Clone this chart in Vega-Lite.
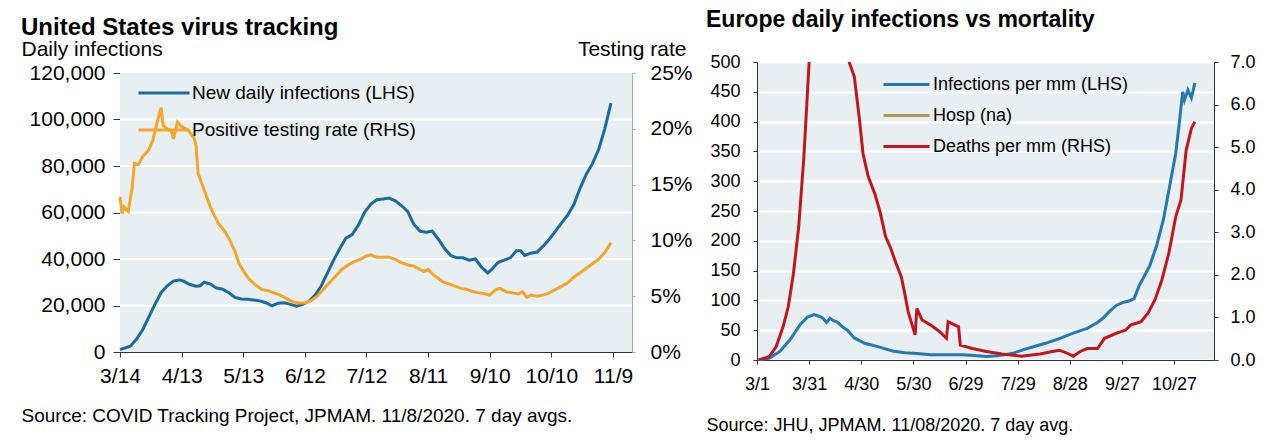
{
  "$schema": "https://vega.github.io/schema/vega-lite/v6.json",
  "background": "white",
  "padding": {"left": 21, "top": 3, "right": 5, "bottom": 5},
  "config": {
    "font": "Liberation Sans",
    "view": {"fill": null, "stroke": null},
    "axis": {"labelColor": "black", "titleColor": "black", "titleFontWeight": "normal", "domainWidth": 1, "tickWidth": 1, "gridColor": "white", "gridWidth": 2, "gridOpacity": 1, "labelFont": "Liberation Sans", "titleFont": "Liberation Sans"},
    "title": {"font": "Liberation Sans", "color": "black"},
    "legend": {"labelFont": "Liberation Sans", "labelColor": "black"}
  },
  "spacing": 13,
  "resolve": {"scale": {"x": "independent", "y": "independent", "color": "independent"}},
  "hconcat": [
    {
      "width": 512,
      "height": 290,
      "title": {"text": ["", "United States virus tracking"], "lineHeight": 13, "anchor": "start", "frame": "group", "dx": -99, "fontSize": 24, "fontWeight": "bold", "offset": -2},
      "resolve": {"scale": {"y": "independent"}},
      "layer": [
        {
          "layer": [
            {
              "data": {"values": [{"panel": "US"}]},
              "mark": {"type": "rect", "color": "#e8eff3"},
              "encoding": {
                "x": {"datum": {"year": 2020, "month": 3, "date": 14, "utc": true}, "type": "temporal"},
                "x2": {"datum": {"year": 2020, "month": 11, "date": 18, "hours": 6, "utc": true}},
                "y": {"datum": 0, "type": "quantitative"},
                "y2": {"datum": 120000}
              }
            },
            {
              "data": {"values": [{"g": 20000}, {"g": 40000}, {"g": 60000}, {"g": 80000}, {"g": 100000}]},
              "mark": {"type": "rule", "color": "white", "strokeWidth": 2},
              "encoding": {"y": {"field": "g", "type": "quantitative"}}
            },
            {
              "data": {"values": [
                {"date": "2020-03-14", "value": 1000}, {"date": "2020-03-19", "value": 2500}, {"date": "2020-03-22", "value": 5500}, {"date": "2020-03-25", "value": 9500}, {"date": "2020-03-28", "value": 15000}, {"date": "2020-03-31", "value": 20500}, {"date": "2020-04-03", "value": 25500}, {"date": "2020-04-06", "value": 28500}, {"date": "2020-04-09", "value": 30500}, {"date": "2020-04-12", "value": 31000}, {"date": "2020-04-14", "value": 30500}, {"date": "2020-04-17", "value": 29000}, {"date": "2020-04-20", "value": 28300}, {"date": "2020-04-22", "value": 28500}, {"date": "2020-04-24", "value": 30000}, {"date": "2020-04-27", "value": 29200}, {"date": "2020-04-30", "value": 27500}, {"date": "2020-05-03", "value": 27000}, {"date": "2020-05-06", "value": 25500}, {"date": "2020-05-09", "value": 23500}, {"date": "2020-05-12", "value": 22800}, {"date": "2020-05-15", "value": 22700}, {"date": "2020-05-18", "value": 22400}, {"date": "2020-05-21", "value": 22000}, {"date": "2020-05-24", "value": 21200}, {"date": "2020-05-27", "value": 19900}, {"date": "2020-05-30", "value": 21000}, {"date": "2020-06-02", "value": 21200}, {"date": "2020-06-05", "value": 20500}, {"date": "2020-06-08", "value": 19700}, {"date": "2020-06-11", "value": 20500}, {"date": "2020-06-14", "value": 21800}, {"date": "2020-06-17", "value": 24500}, {"date": "2020-06-20", "value": 28500}, {"date": "2020-06-23", "value": 34000}, {"date": "2020-06-26", "value": 39500}, {"date": "2020-06-29", "value": 44500}, {"date": "2020-07-02", "value": 49000}, {"date": "2020-07-05", "value": 50500}, {"date": "2020-07-08", "value": 54500}, {"date": "2020-07-11", "value": 60000}, {"date": "2020-07-14", "value": 63500}, {"date": "2020-07-17", "value": 65500}, {"date": "2020-07-20", "value": 65800}, {"date": "2020-07-23", "value": 66200}, {"date": "2020-07-26", "value": 65000}, {"date": "2020-07-29", "value": 63000}, {"date": "2020-08-01", "value": 60500}, {"date": "2020-08-04", "value": 55000}, {"date": "2020-08-07", "value": 52000}, {"date": "2020-08-10", "value": 51500}, {"date": "2020-08-13", "value": 52000}, {"date": "2020-08-16", "value": 48500}, {"date": "2020-08-19", "value": 44500}, {"date": "2020-08-22", "value": 41500}, {"date": "2020-08-25", "value": 40500}, {"date": "2020-08-28", "value": 40500}, {"date": "2020-08-31", "value": 39500}, {"date": "2020-09-03", "value": 40000}, {"date": "2020-09-06", "value": 36500}, {"date": "2020-09-09", "value": 34000}, {"date": "2020-09-11", "value": 35500}, {"date": "2020-09-14", "value": 38500}, {"date": "2020-09-17", "value": 39500}, {"date": "2020-09-20", "value": 40500}, {"date": "2020-09-23", "value": 43500}, {"date": "2020-09-25", "value": 43500}, {"date": "2020-09-27", "value": 41500}, {"date": "2020-09-30", "value": 42500}, {"date": "2020-10-03", "value": 43000}, {"date": "2020-10-06", "value": 45500}, {"date": "2020-10-09", "value": 48500}, {"date": "2020-10-12", "value": 52000}, {"date": "2020-10-15", "value": 55500}, {"date": "2020-10-18", "value": 59000}, {"date": "2020-10-21", "value": 63500}, {"date": "2020-10-24", "value": 70500}, {"date": "2020-10-27", "value": 76500}, {"date": "2020-10-30", "value": 81000}, {"date": "2020-11-02", "value": 87000}, {"date": "2020-11-05", "value": 96000}, {"date": "2020-11-08", "value": 107000}
              ]},
              "mark": {"type": "line", "strokeWidth": 3},
              "encoding": {
                "x": {"field": "date", "type": "temporal",
                  "scale": {"type": "utc", "domain": [{"year": 2020, "month": 3, "date": 14, "utc": true}, {"year": 2020, "month": 11, "date": 18, "hours": 6, "utc": true}]},
                  "axis": {"title": "Source: COVID Tracking Project, JPMAM. 11/8/2020. 7 day avgs.", "titleX": -99, "titleY": 69, "titleAlign": "left", "titleBaseline": "alphabetic", "titleFontSize": 19,
                    "values": [{"year": 2020, "month": 3, "date": 14, "utc": true}, {"year": 2020, "month": 4, "date": 13, "utc": true}, {"year": 2020, "month": 5, "date": 13, "utc": true}, {"year": 2020, "month": 6, "date": 12, "utc": true}, {"year": 2020, "month": 7, "date": 12, "utc": true}, {"year": 2020, "month": 8, "date": 11, "utc": true}, {"year": 2020, "month": 9, "date": 10, "utc": true}, {"year": 2020, "month": 10, "date": 10, "utc": true}, {"year": 2020, "month": 11, "date": 9, "utc": true}],
                    "labelExpr": "utcFormat(datum.value, '%-m/%-d')", "labelFontSize": 21, "labelPadding": 8, "tickSize": 5, "domainColor": "#333333", "tickColor": "#333333", "grid": false, "labelFlush": false, "labelOverlap": false}},
                "y": {"field": "value", "type": "quantitative",
                  "scale": {"domain": [0, 120000], "range": [290, 11], "nice": false},
                  "axis": {"orient": "left", "values": [0, 20000, 40000, 60000, 80000, 100000, 120000], "format": ",d", "labelFontSize": 21, "tickSize": 7, "labelPadding": 8, "domainColor": "#333333", "tickColor": "#333333", "grid": false,
                    "title": "Daily infections", "titleAngle": 0, "titleAlign": "left", "titleBaseline": "alphabetic", "titleX": -99, "titleY": -7, "titleFontSize": 21}},
                "color": {"datum": "New daily infections (LHS)", "type": "nominal",
                  "scale": {"domain": ["New daily infections (LHS)", "Positive testing rate (RHS)"], "range": ["#1c6b9d", "#f4a62a"]},
                  "legend": {"orient": "none", "legendX": 34, "legendY": 21, "title": null, "symbolType": "M-3,0H3", "symbolSize": 289, "symbolStrokeWidth": 3, "labelFontSize": 19, "labelOffset": 18, "rowPadding": 17, "padding": 0, "labelLimit": 500}}
              }
            }
          ]
        },
        {
          "data": {"values": [
            {"date": "2020-03-14", "rate": 13.9}, {"date": "2020-03-15", "rate": 12.4}, {"date": "2020-03-16", "rate": 13.0}, {"date": "2020-03-18", "rate": 12.6}, {"date": "2020-03-20", "rate": 14.8}, {"date": "2020-03-21", "rate": 16.9}, {"date": "2020-03-23", "rate": 16.8}, {"date": "2020-03-25", "rate": 17.5}, {"date": "2020-03-28", "rate": 18.1}, {"date": "2020-03-30", "rate": 19.0}, {"date": "2020-04-01", "rate": 20.5}, {"date": "2020-04-03", "rate": 21.9}, {"date": "2020-04-04", "rate": 20.3}, {"date": "2020-04-06", "rate": 20.0}, {"date": "2020-04-08", "rate": 19.8}, {"date": "2020-04-09", "rate": 19.1}, {"date": "2020-04-11", "rate": 20.6}, {"date": "2020-04-13", "rate": 20.2}, {"date": "2020-04-16", "rate": 19.9}, {"date": "2020-04-19", "rate": 19.2}, {"date": "2020-04-20", "rate": 18.5}, {"date": "2020-04-21", "rate": 16.0}, {"date": "2020-04-23", "rate": 15.0}, {"date": "2020-04-25", "rate": 14.0}, {"date": "2020-04-27", "rate": 13.0}, {"date": "2020-04-29", "rate": 12.2}, {"date": "2020-05-01", "rate": 11.5}, {"date": "2020-05-04", "rate": 10.8}, {"date": "2020-05-06", "rate": 10.2}, {"date": "2020-05-09", "rate": 9.0}, {"date": "2020-05-11", "rate": 7.9}, {"date": "2020-05-14", "rate": 7.0}, {"date": "2020-05-16", "rate": 6.5}, {"date": "2020-05-19", "rate": 6.0}, {"date": "2020-05-22", "rate": 5.6}, {"date": "2020-05-25", "rate": 5.5}, {"date": "2020-05-28", "rate": 5.3}, {"date": "2020-05-31", "rate": 5.1}, {"date": "2020-06-03", "rate": 4.8}, {"date": "2020-06-06", "rate": 4.5}, {"date": "2020-06-09", "rate": 4.4}, {"date": "2020-06-12", "rate": 4.4}, {"date": "2020-06-15", "rate": 4.6}, {"date": "2020-06-18", "rate": 5.0}, {"date": "2020-06-21", "rate": 5.6}, {"date": "2020-06-24", "rate": 6.2}, {"date": "2020-06-27", "rate": 6.8}, {"date": "2020-06-30", "rate": 7.4}, {"date": "2020-07-03", "rate": 7.8}, {"date": "2020-07-06", "rate": 8.1}, {"date": "2020-07-09", "rate": 8.3}, {"date": "2020-07-12", "rate": 8.6}, {"date": "2020-07-14", "rate": 8.7}, {"date": "2020-07-17", "rate": 8.5}, {"date": "2020-07-20", "rate": 8.5}, {"date": "2020-07-23", "rate": 8.5}, {"date": "2020-07-26", "rate": 8.3}, {"date": "2020-07-29", "rate": 8.0}, {"date": "2020-08-01", "rate": 7.8}, {"date": "2020-08-04", "rate": 7.7}, {"date": "2020-08-07", "rate": 7.4}, {"date": "2020-08-09", "rate": 7.2}, {"date": "2020-08-11", "rate": 7.4}, {"date": "2020-08-13", "rate": 7.0}, {"date": "2020-08-16", "rate": 6.6}, {"date": "2020-08-18", "rate": 6.3}, {"date": "2020-08-21", "rate": 6.1}, {"date": "2020-08-24", "rate": 5.9}, {"date": "2020-08-27", "rate": 5.7}, {"date": "2020-08-30", "rate": 5.6}, {"date": "2020-09-02", "rate": 5.4}, {"date": "2020-09-05", "rate": 5.3}, {"date": "2020-09-08", "rate": 5.2}, {"date": "2020-09-10", "rate": 5.1}, {"date": "2020-09-13", "rate": 5.6}, {"date": "2020-09-15", "rate": 5.7}, {"date": "2020-09-18", "rate": 5.4}, {"date": "2020-09-21", "rate": 5.3}, {"date": "2020-09-24", "rate": 5.2}, {"date": "2020-09-26", "rate": 5.4}, {"date": "2020-09-28", "rate": 4.9}, {"date": "2020-09-30", "rate": 5.1}, {"date": "2020-10-03", "rate": 5.0}, {"date": "2020-10-06", "rate": 5.1}, {"date": "2020-10-09", "rate": 5.3}, {"date": "2020-10-12", "rate": 5.6}, {"date": "2020-10-15", "rate": 5.9}, {"date": "2020-10-18", "rate": 6.2}, {"date": "2020-10-21", "rate": 6.7}, {"date": "2020-10-24", "rate": 7.1}, {"date": "2020-10-27", "rate": 7.5}, {"date": "2020-10-30", "rate": 7.9}, {"date": "2020-11-02", "rate": 8.3}, {"date": "2020-11-05", "rate": 8.9}, {"date": "2020-11-08", "rate": 9.8}
          ]},
          "mark": {"type": "line", "strokeWidth": 3},
          "encoding": {
            "x": {"field": "date", "type": "temporal"},
            "y": {"field": "rate", "type": "quantitative",
              "scale": {"domain": [0, 25], "range": [290, 11], "nice": false},
              "axis": {"orient": "right", "values": [0, 5, 10, 15, 20, 25], "labelExpr": "datum.value + '%'", "labelFontSize": 21, "tickSize": 3, "labelPadding": 15, "domainColor": "#aaaaaa", "tickColor": "#aaaaaa", "grid": false,
                "title": "Testing rate", "titleAngle": 0, "titleAlign": "right", "titleBaseline": "alphabetic", "titleX": 54, "titleY": -7, "titleFontSize": 21}},
            "color": {"datum": "Positive testing rate (RHS)", "type": "nominal"}
          }
        }
      ]
    },
    {
      "width": 457,
      "height": 298,
      "view": {"fill": "#e8eff3", "stroke": null},
      "title": {"text": "Europe daily infections vs mortality", "anchor": "start", "frame": "group", "dx": -51, "fontSize": 23, "fontWeight": "bold", "offset": 21},
      "resolve": {"scale": {"y": "independent"}},
      "layer": [
        {
          "data": {"values": [
            {"date": "2020-03-02", "v": 0.5}, {"date": "2020-03-08", "v": 3}, {"date": "2020-03-14", "v": 14}, {"date": "2020-03-20", "v": 34}, {"date": "2020-03-26", "v": 60}, {"date": "2020-03-30", "v": 72}, {"date": "2020-04-03", "v": 76}, {"date": "2020-04-06", "v": 73}, {"date": "2020-04-08", "v": 70}, {"date": "2020-04-10", "v": 63}, {"date": "2020-04-12", "v": 70}, {"date": "2020-04-14", "v": 66}, {"date": "2020-04-16", "v": 64}, {"date": "2020-04-19", "v": 56}, {"date": "2020-04-22", "v": 50}, {"date": "2020-04-26", "v": 37}, {"date": "2020-05-02", "v": 28}, {"date": "2020-05-10", "v": 22}, {"date": "2020-05-18", "v": 15}, {"date": "2020-05-25", "v": 12}, {"date": "2020-06-01", "v": 11}, {"date": "2020-06-09", "v": 9}, {"date": "2020-06-19", "v": 9}, {"date": "2020-06-27", "v": 9}, {"date": "2020-07-04", "v": 7.5}, {"date": "2020-07-11", "v": 6}, {"date": "2020-07-17", "v": 7}, {"date": "2020-07-22", "v": 9}, {"date": "2020-07-27", "v": 12}, {"date": "2020-08-01", "v": 17}, {"date": "2020-08-08", "v": 23}, {"date": "2020-08-14", "v": 28}, {"date": "2020-08-22", "v": 36}, {"date": "2020-08-30", "v": 45}, {"date": "2020-09-07", "v": 53}, {"date": "2020-09-13", "v": 63}, {"date": "2020-09-16", "v": 70}, {"date": "2020-09-20", "v": 82}, {"date": "2020-09-24", "v": 92}, {"date": "2020-09-28", "v": 97}, {"date": "2020-10-01", "v": 99}, {"date": "2020-10-04", "v": 103}, {"date": "2020-10-07", "v": 125}, {"date": "2020-10-09", "v": 136}, {"date": "2020-10-13", "v": 158}, {"date": "2020-10-17", "v": 192}, {"date": "2020-10-21", "v": 237}, {"date": "2020-10-25", "v": 300}, {"date": "2020-10-28", "v": 347}, {"date": "2020-10-30", "v": 397}, {"date": "2020-11-01", "v": 450}, {"date": "2020-11-02", "v": 436}, {"date": "2020-11-04", "v": 453}, {"date": "2020-11-06", "v": 440}, {"date": "2020-11-08", "v": 465}
          ]},
          "mark": {"type": "line", "strokeWidth": 3},
          "encoding": {
            "x": {"field": "date", "type": "temporal",
              "scale": {"type": "utc", "domain": [{"year": 2020, "month": 3, "date": 1, "utc": true}, {"year": 2020, "month": 11, "date": 19, "utc": true}]},
              "axis": {"title": "Source: JHU, JPMAM. 11/08/2020. 7 day avg.", "titleX": -51, "titleY": 70, "titleAlign": "left", "titleBaseline": "alphabetic", "titleFontSize": 18,
                "values": [{"year": 2020, "month": 3, "date": 1, "utc": true}, {"year": 2020, "month": 3, "date": 31, "utc": true}, {"year": 2020, "month": 4, "date": 30, "utc": true}, {"year": 2020, "month": 5, "date": 30, "utc": true}, {"year": 2020, "month": 6, "date": 29, "utc": true}, {"year": 2020, "month": 7, "date": 29, "utc": true}, {"year": 2020, "month": 8, "date": 28, "utc": true}, {"year": 2020, "month": 9, "date": 27, "utc": true}, {"year": 2020, "month": 10, "date": 27, "utc": true}],
                "labelExpr": "utcFormat(datum.value, '%-m/%-d')", "labelFontSize": 18, "labelPadding": 11, "tickSize": 4, "domainColor": "#333333", "tickColor": "#333333", "grid": false, "labelFlush": false, "labelOverlap": false}},
            "y": {"field": "v", "type": "quantitative",
              "scale": {"domain": [0, 500], "nice": false},
              "axis": {"orient": "left", "values": [0, 50, 100, 150, 200, 250, 300, 350, 400, 450, 500], "labelFontSize": 18, "tickSize": 4, "labelPadding": 13, "domainColor": "#333333", "tickColor": "#333333", "grid": true, "title": null}},
            "color": {"datum": "Infections per mm (LHS)", "type": "nominal",
              "scale": {"domain": ["Infections per mm (LHS)", "Hosp (na)", "Deaths per mm (RHS)"], "range": ["#2479b0", "#b39550", "#c0171c"]},
              "legend": {"orient": "none", "legendX": 140, "legendY": 13, "title": null, "symbolType": "M-3,0H3", "symbolSize": 235, "symbolStrokeWidth": 3, "labelFontSize": 18, "labelOffset": 17, "rowPadding": 12, "padding": 0, "labelLimit": 500}}
          }
        },
        {
          "data": {"values": [
            {"date": "2020-03-02", "d": 0}, {"date": "2020-03-08", "d": 0.08}, {"date": "2020-03-12", "d": 0.31}, {"date": "2020-03-16", "d": 0.78}, {"date": "2020-03-19", "d": 1.25}, {"date": "2020-03-22", "d": 2.04}, {"date": "2020-03-25", "d": 3.13}, {"date": "2020-03-28", "d": 4.78}, {"date": "2020-03-31", "d": 7.0}, {"date": "2020-04-04", "d": 8.6}, {"date": "2020-04-08", "d": 9.0}, {"date": "2020-04-14", "d": 8.8}, {"date": "2020-04-20", "d": 8.0}, {"date": "2020-04-23", "d": 7.0}, {"date": "2020-04-26", "d": 6.66}, {"date": "2020-04-29", "d": 5.64}, {"date": "2020-05-01", "d": 4.85}, {"date": "2020-05-04", "d": 4.31}, {"date": "2020-05-08", "d": 3.88}, {"date": "2020-05-11", "d": 3.45}, {"date": "2020-05-14", "d": 2.9}, {"date": "2020-05-17", "d": 2.62}, {"date": "2020-05-20", "d": 2.27}, {"date": "2020-05-23", "d": 1.96}, {"date": "2020-05-25", "d": 1.57}, {"date": "2020-05-27", "d": 1.13}, {"date": "2020-05-29", "d": 0.86}, {"date": "2020-05-31", "d": 0.59}, {"date": "2020-06-01", "d": 1.21}, {"date": "2020-06-04", "d": 0.94}, {"date": "2020-06-09", "d": 0.82}, {"date": "2020-06-14", "d": 0.67}, {"date": "2020-06-18", "d": 0.51}, {"date": "2020-06-19", "d": 0.9}, {"date": "2020-06-23", "d": 0.82}, {"date": "2020-06-25", "d": 0.78}, {"date": "2020-06-26", "d": 0.35}, {"date": "2020-07-03", "d": 0.27}, {"date": "2020-07-11", "d": 0.2}, {"date": "2020-07-20", "d": 0.14}, {"date": "2020-07-31", "d": 0.09}, {"date": "2020-08-11", "d": 0.14}, {"date": "2020-08-18", "d": 0.2}, {"date": "2020-08-22", "d": 0.23}, {"date": "2020-08-26", "d": 0.17}, {"date": "2020-08-30", "d": 0.09}, {"date": "2020-09-03", "d": 0.2}, {"date": "2020-09-07", "d": 0.27}, {"date": "2020-09-13", "d": 0.27}, {"date": "2020-09-17", "d": 0.51}, {"date": "2020-09-24", "d": 0.63}, {"date": "2020-09-29", "d": 0.7}, {"date": "2020-10-02", "d": 0.82}, {"date": "2020-10-08", "d": 0.9}, {"date": "2020-10-12", "d": 1.1}, {"date": "2020-10-16", "d": 1.41}, {"date": "2020-10-20", "d": 1.88}, {"date": "2020-10-24", "d": 2.51}, {"date": "2020-10-28", "d": 3.37}, {"date": "2020-10-31", "d": 3.76}, {"date": "2020-11-03", "d": 4.93}, {"date": "2020-11-06", "d": 5.44}, {"date": "2020-11-08", "d": 5.6}
          ]},
          "mark": {"type": "line", "strokeWidth": 3, "clip": true},
          "encoding": {
            "x": {"field": "date", "type": "temporal"},
            "y": {"field": "d", "type": "quantitative",
              "scale": {"domain": [0, 7], "nice": false},
              "axis": {"orient": "right", "values": [0, 1, 2, 3, 4, 5, 6, 7], "format": ".1f", "labelFontSize": 18, "tickSize": 4, "labelPadding": 12, "domainColor": "#333333", "tickColor": "#333333", "grid": false, "title": null}},
            "color": {"datum": "Deaths per mm (RHS)", "type": "nominal"}
          }
        }
      ]
    }
  ]
}
